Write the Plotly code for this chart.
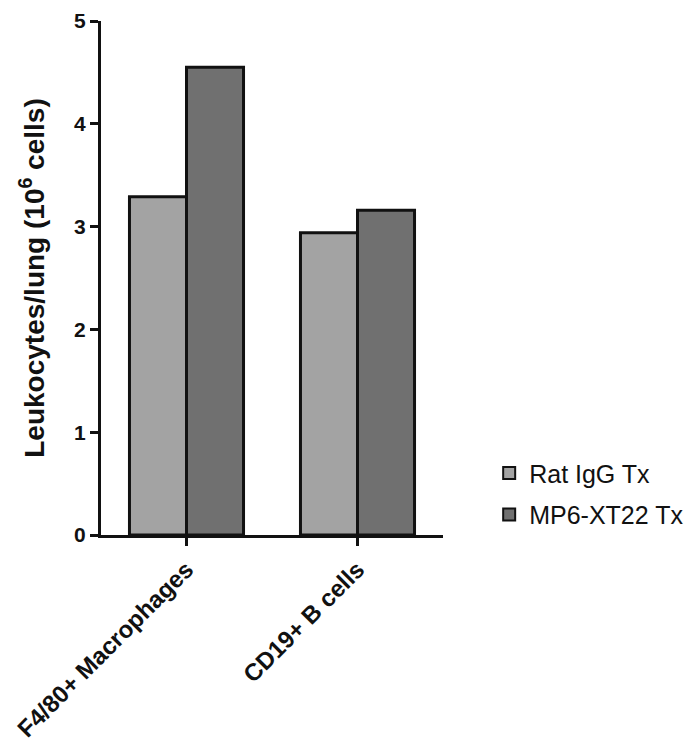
import plotly.graph_objects as go

categories = ["F4/80+ Macrophages", "CD19+ B cells"]
rat_igg = [3.29, 2.94]
mp6 = [4.55, 3.16]
series_names = ["Rat IgG Tx", "MP6-XT22 Tx"]
y_ticks = [0, 1, 2, 3, 4, 5]

fig = go.Figure()
fig.add_trace(go.Bar(x=categories, y=rat_igg, name=series_names[0], legendgroup="a",
                     marker=dict(color="#a3a3a3", line=dict(color="#111111", width=3))))
fig.add_trace(go.Bar(x=categories, y=mp6, name=series_names[1], legendgroup="b",
                     marker=dict(color="#707070", line=dict(color="#111111", width=3))))

fig.update_layout(
    width=700, height=752,
    margin=dict(l=93, r=265, t=13, b=225, autoexpand=False),
    plot_bgcolor="white", paper_bgcolor="white",
    barmode="group", bargap=0.333, bargroupgap=0,
    font=dict(family="Arial, Liberation Sans, sans-serif", color="#111111"),
    legend=dict(x=1.135, y=0.165, xanchor="left", yanchor="top",
                font=dict(size=25, color="#111111"), tracegroupgap=6,
                itemwidth=30, itemsizing="constant"),
    xaxis=dict(range=[-0.5, 1.5], showline=True, linecolor="#111111", linewidth=3,
               ticks="outside", ticklen=8, tickwidth=3, tickcolor="#111111",
               automargin=False,
               tickangle=-45, tickfont=dict(size=24, color="#111111", weight="bold")),
    yaxis=dict(range=[0, 5], tickvals=y_ticks, showline=True, linecolor="#111111",
               linewidth=3, ticks="outside", ticklen=8, tickwidth=3, tickcolor="#111111",
               showgrid=False, zeroline=False, ticklabeloverflow="allow", automargin=False,
               tickfont=dict(size=21, color="#111111", weight="bold"),
               title=dict(text="Leukocytes/lung (10<sup>6</sup> cells)",
                          font=dict(size=28, color="#111111", weight="bold"), standoff=22)),
)

fig.write_html("out.html")
